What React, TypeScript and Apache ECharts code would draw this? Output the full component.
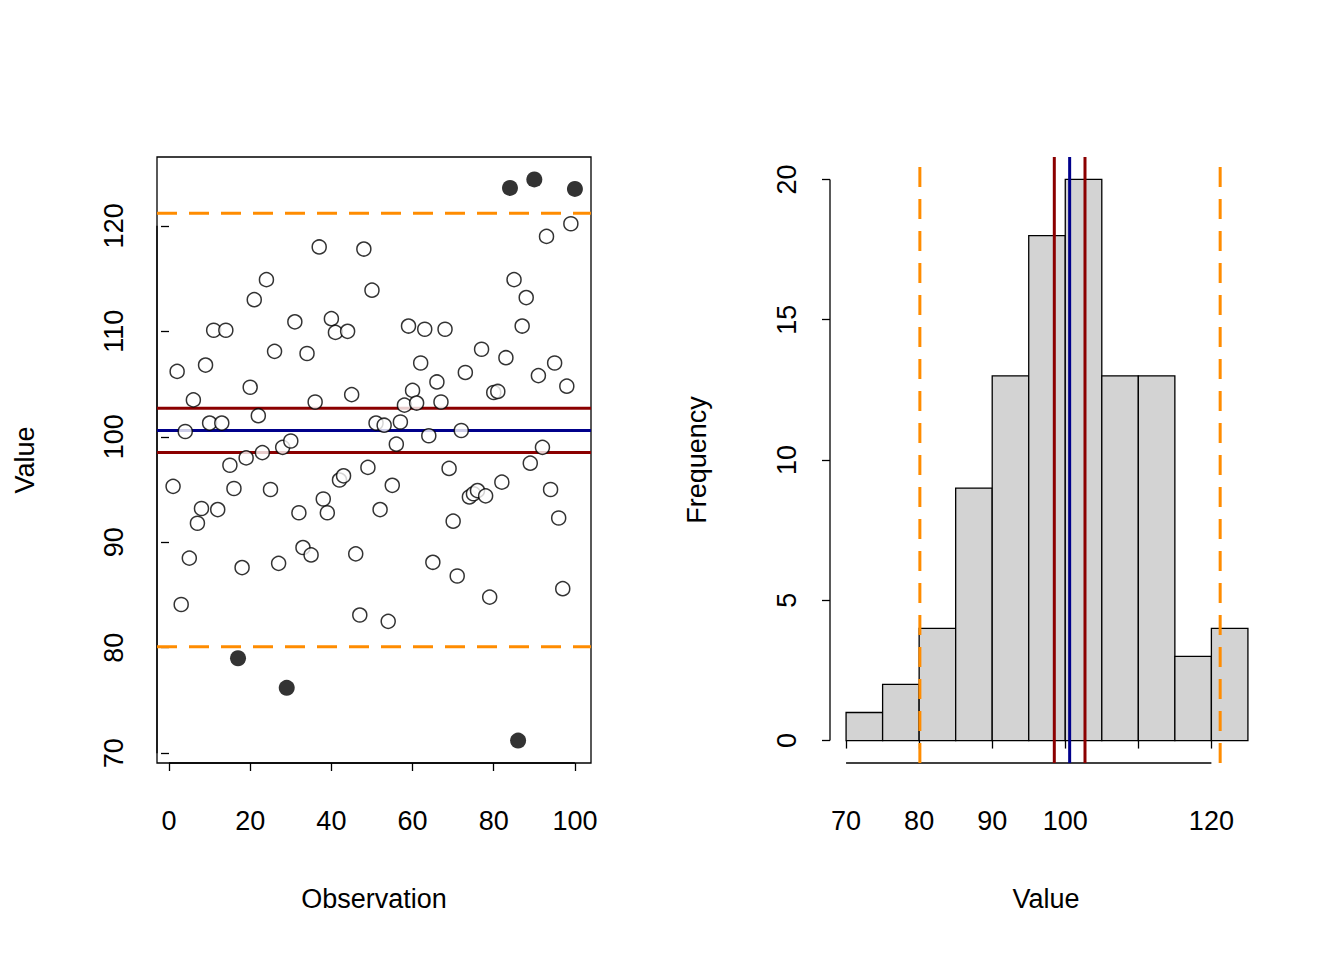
import React, { useEffect, useRef } from "react";
import * as echarts from "echarts";

const values = [95.3,106.2,84.1,100.5,88.5,103.5,91.8,93.2,106.8,101.3,110.1,93.1,101.3,110.1,97.3,95.1,79.0,87.6,98.0,104.7,113.0,102.0,98.5,114.9,95.0,108.1,88.0,99.0,76.2,99.6,110.9,92.8,89.5,107.9,88.8,103.3,118.0,94.1,92.8,111.2,109.9,95.9,96.3,110.0,104.0,88.9,83.1,117.8,97.1,113.9,101.3,93.1,101.1,82.5,95.4,99.3,101.4,103.0,110.5,104.4,103.2,107.0,110.2,100.1,88.1,105.2,103.3,110.2,97.0,92.0,86.8,100.6,106.1,94.3,94.6,94.9,108.3,94.4,84.8,104.2,104.3,95.7,107.5,123.6,114.9,71.2,110.5,113.2,97.5,124.4,105.8,99.0,119.0,95.0,107.0,92.3,85.6,104.8,120.2,123.5];
const fenceLow = 80.1, fenceHigh = 121.2;
const meanVal = 100.6;
const ciLow = 98.5, ciHigh = 102.7;
const binEdges = [70,75,80,85,90,95,100,105,110,115,120,125];
const binCounts = [1,2,4,9,13,18,20,13,13,3,4];
const obsTicks = [0,20,40,60,80,100];
const valTicks = [70,80,90,100,110,120];
const histXTicks = [70,80,90,100,110,120];
const histXLabels = [70,80,90,100,120];
const freqTicks = [0,5,10,15,20];

const FONT = "Liberation Sans, Arial, sans-serif";
const FS = 27;

export default function App() {
  const ref = useRef<HTMLDivElement>(null);
  useEffect(() => {
    const chart = echarts.init(ref.current!, null, { renderer: "svg" });
    const n = values.length;
    const xr = [1 - 0.04 * (n - 1), n + 0.04 * (n - 1)];
    const vmin = Math.min(...values), vmax = Math.max(...values);
    const yr = [vmin - 0.04 * (vmax - vmin), vmax + 0.04 * (vmax - vmin)];
    const hx = [binEdges[0] - 0.04 * (binEdges[binEdges.length - 1] - binEdges[0]), binEdges[binEdges.length - 1] + 0.04 * (binEdges[binEdges.length - 1] - binEdges[0])];
    const cmax = Math.max(...binCounts);
    const hy = [-0.04 * cmax, cmax * 1.04];
    const normal: number[][] = [], outl: number[][] = [];
    values.forEach((v, i) => (v < fenceLow || v > fenceHigh ? outl : normal).push([i + 1, v]));
    const lbl = { fontFamily: FONT, fontSize: FS, color: "#000" };
    const tick = (vals: number[]) => ({ show: true, inside: false, length: 8, customValues: vals, lineStyle: { color: "#000", width: 1.3 } });
    const hline = (v: number, color: string, dashed: boolean) => ({
      type: "line", xAxisIndex: 0, yAxisIndex: 0, data: [[xr[0], v], [xr[1], v]], symbol: "none",
      lineStyle: { color, width: 3, type: dashed ? [20, 12] : "solid" }, z: 3,
    });
    const vline = (v: number, color: string, dashed: boolean) => ({
      type: "line", xAxisIndex: 2, yAxisIndex: 2, data: [[v, 0], [v, 1]], symbol: "none",
      lineStyle: { color, width: 3, type: dashed ? [20, 12] : "solid" }, z: 5,
    });
    chart.setOption({
      animation: false,
      grid: [
        { left: 157, top: 157, width: 434, height: 606, show: true, borderColor: "#000", borderWidth: 1.3, backgroundColor: "transparent" },
        { left: 830, top: 157, width: 434, height: 606 },
        { left: 830, top: 157, width: 434, height: 606 },
      ],
      xAxis: [
        { type: "value", gridIndex: 0, min: xr[0], max: xr[1], splitLine: { show: false }, axisLine: { show: false }, axisTick: tick(obsTicks), axisLabel: { ...lbl, margin: 44, customValues: obsTicks } },
        { type: "value", gridIndex: 1, min: hx[0], max: hx[1], splitLine: { show: false }, axisLine: { show: false }, axisTick: tick(histXTicks), axisLabel: { ...lbl, margin: 44, customValues: histXLabels } },
        { type: "value", gridIndex: 2, min: hx[0], max: hx[1], show: false },
      ],
      yAxis: [
        { type: "value", gridIndex: 0, min: yr[0], max: yr[1], splitLine: { show: false }, axisLine: { show: false }, axisTick: tick(valTicks), axisLabel: { ...lbl, rotate: 90, margin: 30, customValues: valTicks } },
        { type: "value", gridIndex: 1, min: hy[0], max: hy[1], splitLine: { show: false }, axisLine: { show: false }, axisTick: tick(freqTicks), axisLabel: { ...lbl, rotate: 90, margin: 30, customValues: freqTicks } },
        { type: "value", gridIndex: 2, min: 0, max: 1, show: false },
      ],
      series: [
        { type: "scatter", xAxisIndex: 0, yAxisIndex: 0, data: normal, symbol: "circle", symbolSize: 14, itemStyle: { color: "#fff", borderColor: "#000", borderWidth: 1.5 }, z: 4 },
        { type: "scatter", xAxisIndex: 0, yAxisIndex: 0, data: outl, symbol: "circle", symbolSize: 16, itemStyle: { color: "#000" }, z: 4 },
        hline(fenceHigh, "#FF8C00", true),
        hline(fenceLow, "#FF8C00", true),
        hline(ciHigh, "#8B0000", false),
        hline(ciLow, "#8B0000", false),
        hline(meanVal, "#00008B", false),
        {
          type: "custom", xAxisIndex: 1, yAxisIndex: 1, data: binCounts.map((c, i) => [binEdges[i], binEdges[i + 1], c]),
          renderItem: (params: any, api: any) => {
            const p0 = api.coord([api.value(0), 0]);
            const p1 = api.coord([api.value(1), api.value(2)]);
            return { type: "rect", shape: { x: p0[0], y: p1[1], width: p1[0] - p0[0], height: p0[1] - p1[1] }, style: { fill: "#D3D3D3", stroke: "#000", lineWidth: 1.3 } };
          },
          z: 2,
        },
        vline(fenceLow, "#FF8C00", true),
        vline(fenceHigh, "#FF8C00", true),
        vline(ciLow, "#8B0000", false),
        vline(ciHigh, "#8B0000", false),
        vline(meanVal, "#00008B", false),
      ],
    });
    const a = chart.convertToPixel({ xAxisIndex: 1, yAxisIndex: 1 }, [histXTicks[0], 0]) as number[];
    const b = chart.convertToPixel({ xAxisIndex: 1, yAxisIndex: 1 }, [histXTicks[histXTicks.length - 1], freqTicks[freqTicks.length - 1]]) as number[];
    const c = chart.convertToPixel({ xAxisIndex: 0, yAxisIndex: 0 }, [obsTicks[0], valTicks[0]]) as number[];
    const d = chart.convertToPixel({ xAxisIndex: 0, yAxisIndex: 0 }, [obsTicks[obsTicks.length - 1], valTicks[valTicks.length - 1]]) as number[];
    const ls = { stroke: "#000", lineWidth: 1.3 };
    const t = { fontFamily: FONT, fontSize: FS, fill: "#000", align: "center", verticalAlign: "middle" };
    chart.setOption({
      graphic: [
        { type: "line", shape: { x1: a[0], y1: 763, x2: b[0], y2: 763 }, style: ls },
        { type: "line", shape: { x1: 830, y1: a[1], x2: 830, y2: b[1] }, style: ls },
        { type: "line", shape: { x1: c[0], y1: 763, x2: d[0], y2: 763 }, style: ls },
        { type: "line", shape: { x1: 157, y1: c[1], x2: 157, y2: d[1] }, style: ls },
        { type: "text", x: 374, y: 899, style: { ...t, text: "Observation" } },
        { type: "text", x: 1046, y: 899, style: { ...t, text: "Value" } },
        { type: "text", x: 25, y: 460, rotation: Math.PI / 2, style: { ...t, text: "Value" } },
        { type: "text", x: 697, y: 460, rotation: Math.PI / 2, style: { ...t, text: "Frequency" } },
      ],
    });
    return () => chart.dispose();
  }, []);
  return <div ref={ref} style={{ position: "fixed", left: 0, top: 0, width: 1344, height: 960, background: "#fff" }} />;
}
